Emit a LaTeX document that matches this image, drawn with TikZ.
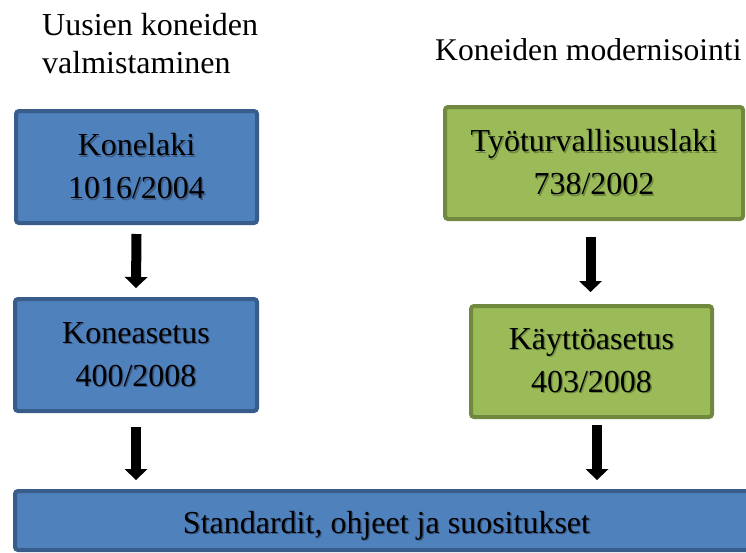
\documentclass[tikz,border=0pt]{standalone}
\usepackage{fontspec}
\setmainfont{Liberation Serif}
\usetikzlibrary{arrows.meta,calc}
\definecolor{bluefill}{HTML}{4F81BD}
\definecolor{blueline}{HTML}{385D8A}
\definecolor{greenfill}{HTML}{9BBB59}
\definecolor{greenline}{HTML}{71893F}
\definecolor{blueshadow}{HTML}{3A5A85}
\definecolor{greenshadow}{HTML}{6F8A3E}
\newcommand\shd[2]{\rlap{\kern1.3pt\raisebox{-1.3pt}{\textcolor{#1}{#2}}}#2}
\begin{document}
\begin{tikzpicture}[x=1pt,y=-1pt,
  box/.style={draw, line width=4pt, rounded corners=3pt, inner sep=0pt, align=center,
    font=\fontsize{32}{43}\selectfont},
  bluebox/.style={box, fill=bluefill, draw=blueline},
  greenbox/.style={box, fill=greenfill, draw=greenline},
  bigarrow/.style={line width=10pt, -{Triangle[width=23pt,length=11pt,line width=0pt]}},
  headtext/.style={inner sep=0pt, align=left}]
\useasboundingbox (0,0) rectangle (746,552);

% headings
\node[headtext, anchor=north west, font=\fontsize{32}{38}\selectfont] (h1) at (42,13) {Uusien koneiden\\valmistaminen};
\node[headtext, anchor=base west, font=\fontsize{31.6}{38}\selectfont] (h2) at (435,60) {Koneiden modernisointi};

% boxes
\node[bluebox, minimum width=241pt, minimum height=112pt] (konelaki) at (136.5,167)
  {\shd{blueshadow}{Konelaki}\\\shd{blueshadow}{1016/2004}};
\node[bluebox, minimum width=242pt, minimum height=112pt] (koneasetus) at (136,355)
  {\shd{blueshadow}{Koneasetus}\\\shd{blueshadow}{400/2008}};
\node[greenbox, minimum width=298pt, minimum height=112pt] (tyo) at (594,163)
  {\shd{greenshadow}{Työturvallisuuslaki}\\\shd{greenshadow}{738/2002}};
\node[greenbox, minimum width=241pt, minimum height=111pt] (kaytto) at (591.5,361.5)
  {\shd{greenshadow}{Käyttöasetus}\\\shd{greenshadow}{403/2008}};
\node[bluebox, minimum width=743pt, minimum height=59pt, text height=32pt, text depth=7pt] (std) at (386.5,520.5)
  {\shd{blueshadow}{Standardit, ohjeet ja suositukset}};

% arrows
\draw[bigarrow] ($(konelaki.south)+(0,9)$) -- ($(koneasetus.north)+(0,-9)$);
\draw[bigarrow] ($(koneasetus.south)+(0,14)$) -- ($(std.north)+(-250.5,-9)$);
\draw[bigarrow] ($(tyo.south)+(-3.5,16)$) -- ($(kaytto.north)+(-1,-12)$);
\draw[bigarrow] ($(kaytto.south)+(5.5,6)$) -- ($(std.north)+(210.5,-9)$);
\end{tikzpicture}
\end{document}
